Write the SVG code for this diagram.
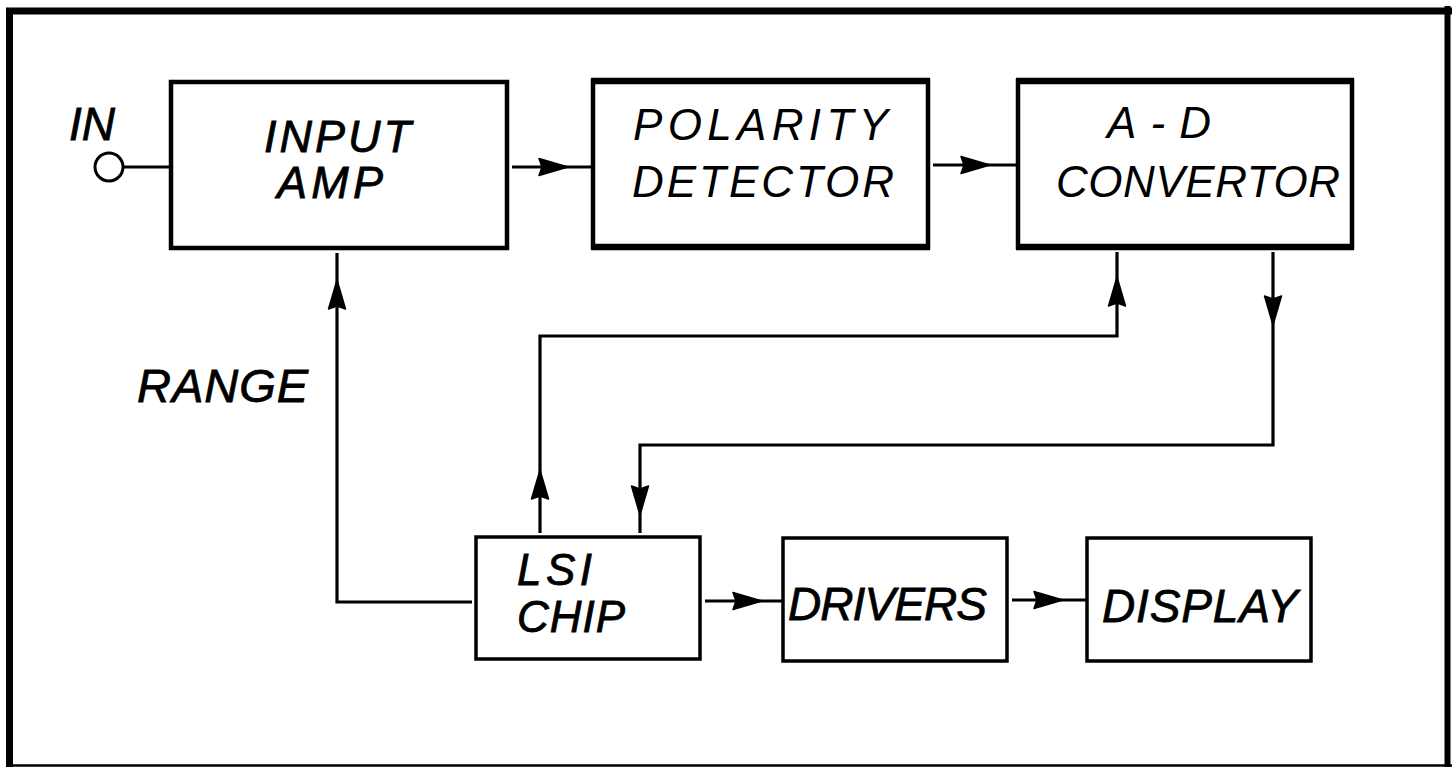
<svg xmlns="http://www.w3.org/2000/svg" xmlns:xlink="http://www.w3.org/1999/xlink" width="1456" height="767" viewBox="0 0 1456 767">
<style>
.box{fill:none;stroke:#000;stroke-width:4.5}
.boxs{fill:none;stroke:#000;stroke-width:3.5}
.edge{stroke:#000;stroke-width:6.5}
.ln{fill:none;stroke:#000;stroke-width:3.2}
.t{font-family:"Liberation Sans",Arial,sans-serif;font-style:italic;fill:#000}
.thin{font-family:"Liberation Sans",Arial,sans-serif;font-style:italic;fill:#000}
.bold{stroke:#000;stroke-width:0.8}
</style>
<defs>
<path id="ah" d="M0,0 L-29,-8.5 L-26,0 L-29,8.5 Z" fill="#000" stroke="#000" stroke-width="1.5" stroke-linejoin="round"/>
</defs>
<rect width="1456" height="767" fill="#fff"/>
<g id="frame">
<line x1="6" y1="11" x2="1452" y2="11" stroke="#000" stroke-width="7"/>
<line x1="9.5" y1="8" x2="9.5" y2="767" stroke="#000" stroke-width="7"/>
<line x1="1447.5" y1="6" x2="1447.5" y2="767" stroke="#000" stroke-width="6"/>
<line x1="6" y1="765.5" x2="1452" y2="765.5" stroke="#000" stroke-width="2.5"/>
</g>
<g id="in-terminal">
<circle cx="109" cy="167" r="14" fill="none" stroke="#000" stroke-width="3"/>
<text class="t bold" x="69" y="140" font-size="46" textLength="46">IN</text>
</g>
<g id="input-amp">
<rect class="box" x="171" y="82" width="336" height="166"/>
<text class="t bold" x="264" y="152" font-size="45" textLength="147">INPUT</text>
<text class="t bold" x="277" y="198" font-size="45" textLength="106">AMP</text>
</g>
<g id="polarity-detector">
<rect class="box" x="593" y="81" width="335" height="166"/>
<line class="edge" x1="591" y1="81" x2="930" y2="81"/>
<line class="edge" x1="591" y1="247" x2="930" y2="247"/>
<text class="thin" x="633" y="140" font-size="44" textLength="255">POLARITY</text>
<text class="thin" x="632" y="197" font-size="44" textLength="262">DETECTOR</text>
</g>
<g id="ad-convertor">
<rect class="box" x="1018" y="81" width="334" height="166"/>
<line class="edge" x1="1016" y1="81" x2="1354" y2="81"/>
<line class="edge" x1="1016" y1="247" x2="1354" y2="247"/>
<text class="thin" x="1107" y="138" font-size="44" textLength="104">A-D</text>
<text class="thin" x="1056" y="197" font-size="44" textLength="284">CONVERTOR</text>
</g>
<g id="range-label">
<text class="t bold" x="137" y="402" font-size="47" textLength="171">RANGE</text>
</g>
<g id="lsi-chip">
<rect class="boxs" x="476" y="537" width="224" height="122"/>
<text class="t bold" x="517" y="585" font-size="44" textLength="75">LSI</text>
<text class="t bold" x="517" y="632" font-size="44" textLength="108">CHIP</text>
</g>
<g id="drivers">
<rect class="boxs" x="783" y="538" width="224" height="123"/>
<text class="t bold" x="788" y="620" font-size="46" textLength="199">DRIVERS</text>
</g>
<g id="display">
<rect class="boxs" x="1087" y="538" width="224" height="123"/>
<text class="t bold" x="1102" y="622" font-size="46" textLength="196">DISPLAY</text>
</g>
<g id="connectors">
<line class="ln" x1="123" y1="167" x2="171" y2="167"/>
<line class="ln" x1="512" y1="167" x2="593" y2="167"/>
<use xlink:href="#ah" href="#ah" transform="translate(568,167)"/>
<line class="ln" x1="933" y1="165" x2="1018" y2="165"/>
<use xlink:href="#ah" href="#ah" transform="translate(990,165)"/>
<polyline class="ln" points="540,533 540,336 1117,336 1117,252"/>
<use xlink:href="#ah" href="#ah" transform="translate(1117,277) rotate(-90)"/>
<use xlink:href="#ah" href="#ah" transform="translate(540,470) rotate(-90)"/>
<polyline class="ln" points="1273,252 1273,445 640,445 640,533"/>
<use xlink:href="#ah" href="#ah" transform="translate(1273,325) rotate(90)"/>
<use xlink:href="#ah" href="#ah" transform="translate(640,515) rotate(90)"/>
<polyline class="ln" points="472,602 337,602 337,253"/>
<use xlink:href="#ah" href="#ah" transform="translate(337,280) rotate(-90)"/>
<line class="ln" x1="705" y1="601" x2="783" y2="601"/>
<use xlink:href="#ah" href="#ah" transform="translate(762,601)"/>
<line class="ln" x1="1012" y1="600" x2="1087" y2="600"/>
<use xlink:href="#ah" href="#ah" transform="translate(1063,600)"/>
</g>
</svg>
